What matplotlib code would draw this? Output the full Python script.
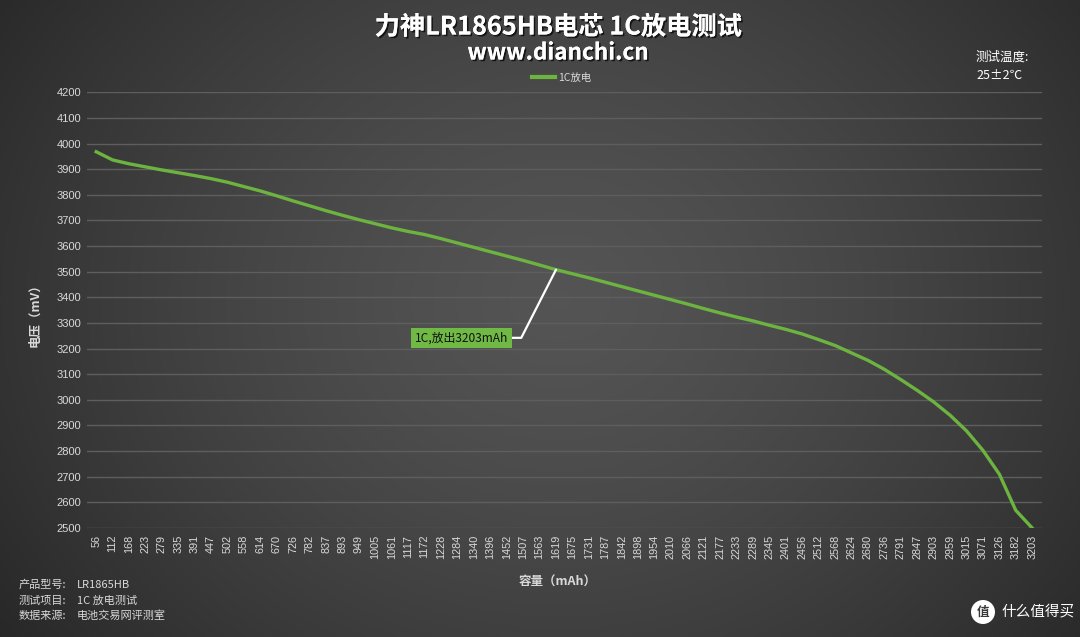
import numpy as np
import matplotlib
matplotlib.use('Agg')
import matplotlib.pyplot as plt
import matplotlib.patheffects as pe
from matplotlib.patches import Ellipse

plt.rcParams['font.family'] = ['Noto Sans CJK SC', 'DejaVu Sans']

# capacity categories (mAh) and voltage readings (mV)
capacity = [56, 112, 168, 223, 279, 335, 391, 447, 502, 558, 614, 670, 726, 782,
            837, 893, 949, 1005, 1061, 1117, 1172, 1228, 1284, 1340, 1396, 1452,
            1507, 1563, 1619, 1675, 1731, 1787, 1842, 1898, 1954, 2010, 2066,
            2121, 2177, 2233, 2289, 2345, 2401, 2456, 2512, 2568, 2624, 2680,
            2736, 2791, 2847, 2903, 2959, 3015, 3071, 3126, 3182, 3203]
voltage = [3968, 3936, 3921, 3909, 3897, 3886, 3875, 3863, 3849, 3832, 3815,
           3796, 3776, 3757, 3738, 3720, 3703, 3687, 3671, 3657, 3645, 3629,
           3612, 3595, 3578, 3561, 3544, 3526, 3508, 3492, 3476, 3459, 3442,
           3425, 3408, 3391, 3374, 3356, 3339, 3323, 3308, 3291, 3275, 3257,
           3235, 3212, 3183, 3154, 3119, 3079, 3037, 2992, 2940, 2879, 2803,
           2710, 2569, 2500]
y_ticks = list(range(2500, 4201, 100))

series_name = '1C放电'
note_text = '1C,放出3203mAh'
note_idx = 28
info_lines = [('产品型号:', 'LR1865HB'), ('测试项目:', '1C 放电测试'), ('数据来源:', '电池交易网评测室')]

line_green = '#6DB33F'
txt_grey = '#d9d9d9'

fig = plt.figure(figsize=(10.8, 6.37), dpi=100)

# background radial gradient
bg = fig.add_axes([0, 0, 1, 1])
gx, gy = np.meshgrid(np.linspace(0, 1080, 540), np.linspace(0, 637, 320))
r = np.sqrt(((gx - 560) / 620) ** 2 + ((gy - 300) / 520) ** 2)
shade = 0.33 - 0.15 * np.clip(r, 0, 1.3) ** 1.4
bg.imshow(np.dstack([shade] * 3), extent=[0, 1, 0, 1], aspect='auto', origin='upper')
bg.axis('off')

ax = fig.add_axes([86.7 / 1080, 1 - 528 / 637, 955 / 1080, (528 - 92.3) / 637])
ax.set_facecolor('none')
x = np.arange(len(capacity))
ax.plot(x, voltage, color=line_green, lw=2.4, label=series_name, solid_joinstyle='round')

ax.set_xlim(-0.58, len(capacity) - 1 + 0.58)
ax.set_ylim(2500, 4200)
ax.set_yticks(y_ticks)
ax.set_xticks(x)
ax.set_xticklabels([str(c) for c in capacity], rotation=90, fontsize=7.8,
                   color=txt_grey, family='Liberation Sans')
ax.set_yticklabels([str(v) for v in y_ticks], fontsize=8, color=txt_grey,
                   family='Liberation Sans')
ax.tick_params(axis='x', length=0, pad=5)
ax.tick_params(axis='y', length=0, pad=4)
ax.grid(axis='y', color='#5e5e5e', lw=1)
ax.set_axisbelow(True)
for s in ax.spines.values():
    s.set_visible(False)

ax.annotate(note_text, xy=(note_idx, voltage[note_idx]), xytext=(22.25, 3242),
            textcoords='data', fontsize=8.6, color='#111111', ha='center', va='center',
            bbox=dict(boxstyle='square,pad=0.3', fc='#70B944', ec='none'),
            arrowprops=dict(arrowstyle='-', color='white', lw=1.6,
                            connectionstyle='angle,angleA=0,angleB=63,rad=0',
                            shrinkA=0, shrinkB=0))

leg = fig.legend(loc='center', bbox_to_anchor=(562 / 1080, 1 - 78 / 637), frameon=False,
                 fontsize=7.5, handlelength=2.2, handletextpad=0.3)
for t in leg.get_texts():
    t.set_color(txt_grey)
for h in leg.get_lines():
    h.set_linewidth(3)

shadow = [pe.withSimplePatchShadow(offset=(1.2, -1.2), shadow_rgbFace='black', alpha=0.7), pe.Normal()]
fig.text(558 / 1080, 1 - 27 / 637, '力神LR1865HB电芯 1C放电测试', ha='center', va='center',
         fontsize=18.2, fontweight='bold', color='white', path_effects=shadow)
fig.text(558 / 1080, 1 - 53 / 637, 'www.dianchi.cn', ha='center', va='center',
         fontsize=16.2, fontweight='bold', color='white', path_effects=shadow)

fig.text(976 / 1080, 1 - 57 / 637, '测试温度:', ha='left', va='center', fontsize=9, color='white')
fig.text(976 / 1080, 1 - 75 / 637, '25±2℃', ha='left', va='center', fontsize=9, color='white')

fig.text(35 / 1080, 1 - 312 / 637, '电压（mV）', rotation=90, ha='center', va='center',
         fontsize=9, color=txt_grey, fontweight='bold')
fig.text(558 / 1080, 1 - 582 / 637, '容量（mAh）', ha='center', va='center',
         fontsize=9, color=txt_grey, fontweight='bold')

for i, (k, v) in enumerate(info_lines):
    yy = 1 - (585 + i * 15.5) / 637
    fig.text(19 / 1080, yy, k, ha='left', va='center', fontsize=8, color=txt_grey)
    fig.text(77 / 1080, yy, v, ha='left', va='center', fontsize=8, color=txt_grey)

# watermark bottom right
fig.patches.append(Ellipse((983 / 1080, 1 - 612 / 637), 24 / 1080, 24 / 637,
                           transform=fig.transFigure, fc='white', ec='none'))
fig.text(983 / 1080, 1 - 612.5 / 637, '值', ha='center', va='center', fontsize=9,
         color='#3a3a3a', fontweight='bold')
fig.text(1001 / 1080, 1 - 612 / 637, '什么值得买', ha='left', va='center', fontsize=10.5,
         color='white')

fig.savefig('out.png', dpi=100)
